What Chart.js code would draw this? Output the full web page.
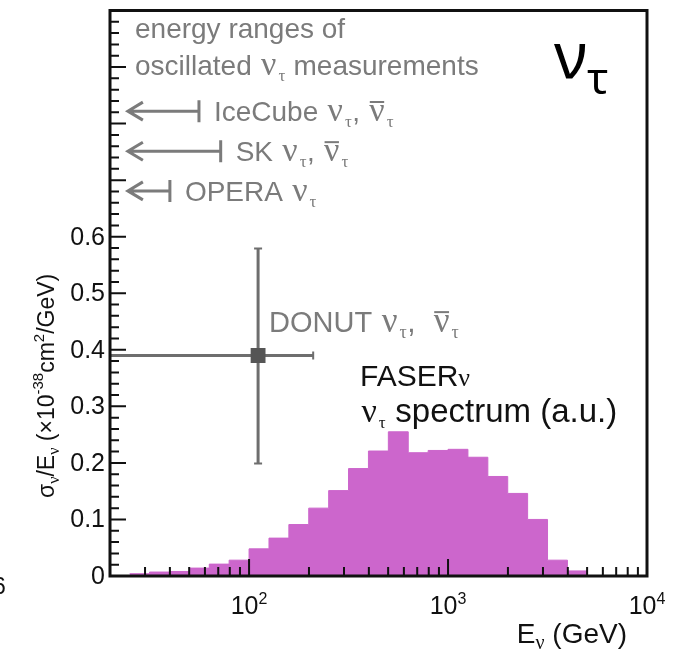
<!DOCTYPE html>
<html>
<head>
<meta charset="utf-8">
<script src="https://cdn.jsdelivr.net/npm/chart.js@4.4.1/dist/chart.umd.min.js"></script>
<style>
  html, body { margin: 0; padding: 0; background: #fff; }
  canvas { display: block; }
</style>
</head>
<body>
<canvas id="nuTau" width="679" height="657"></canvas>
<script>
// FASERnu nu_tau spectrum: 0.1-decade bins from 10^1.4 to 10^3.7 GeV
var BIN_EDGES = [25.1, 31.6, 39.8, 50.1, 63.1, 79.4, 100, 125.9, 158.5, 199.5, 251.2, 316.2,
                 398.1, 501.2, 631.0, 794.3, 1000, 1258.9, 1584.9, 1995.3, 2511.9, 3162.3, 3981.1, 5011.9];
var SPECTRUM = [0.004, 0.007, 0.008, 0.014, 0.021, 0.028, 0.048, 0.067, 0.091, 0.120, 0.151, 0.190,
                0.221, 0.255, 0.218, 0.222, 0.224, 0.210, 0.176, 0.146, 0.100, 0.028, 0.009];

// DONUT measurement
var DONUT_E = [111];
var DONUT_E_LOW = [10];
var DONUT_E_HIGH = [210];
var DONUT_XS = [0.39];
var DONUT_XS_LOW = [0.199];
var DONUT_XS_HIGH = [0.579];

// energy ranges of oscillated nu_tau measurements (GeV)
var RANGE_NAMES = ['IceCube', 'SK', 'OPERA'];
var RANGE_LOW = [24.6, 24.6, 24.6];
var RANGE_HIGH = [56, 72, 40];
var RANGE_Y = [0.822, 0.751, 0.681];

// axis ticks
var X_MAJOR = [100, 1000, 10000];
var X_EXPONENTS = ['2', '3', '4'];
var X_MINOR = [30, 40, 50, 60, 70, 80, 90, 200, 300, 400, 500, 600, 700, 800, 900,
               2000, 3000, 4000, 5000, 6000, 7000, 8000, 9000];
var Y_LABELS = ['0', '0.1', '0.2', '0.3', '0.4', '0.5', '0.6'];

var SANS = '"Liberation Sans", Arial, Helvetica, sans-serif';
var GREEK = '"Liberation Serif", "Times New Roman", serif';
var GREY = '#7b7b7b';
var MAGENTA = '#cc66cc';

function rich(ctx, x, y, parts, align) {
    var w = 0;
    parts.forEach(function (p) { ctx.font = p.f; w += ctx.measureText(p.t).width + (p.pad || 0); });
    var cx = align === 'right' ? x - w : (align === 'center' ? x - w / 2 : x);
    parts.forEach(function (p) {
        ctx.font = p.f;
        var pw = ctx.measureText(p.t).width;
        ctx.fillText(p.t, cx + (p.pad || 0) / 2, y + (p.dy || 0));
        if (p.bar) {
            ctx.fillRect(cx + 2, y + (p.dy || 0) - p.bar, pw + (p.pad || 0) - 4, 2);
        }
        cx += pw + (p.pad || 0);
    });
}

function nuTauParts(size, bar) {
    return [
        { t: 'ν', f: Math.round(size * 1.2) + 'px ' + GREEK, bar: bar ? size * 0.72 : 0, pad: 3 },
        { t: 'τ', f: Math.round(size * 0.62) + 'px ' + GREEK, dy: 6, pad: 1 }
    ];
}

var decorations = {
    id: 'decorations',
    beforeDatasetsDraw: function (chart) {
        var ctx = chart.ctx, xs = chart.scales.x, ys = chart.scales.y, a = chart.chartArea;
        ctx.save();
        ctx.beginPath();
        ctx.rect(a.left, a.top, a.right - a.left, a.bottom - a.top);
        ctx.clip();
        ctx.strokeStyle = '#6e6e6e';
        for (var i = 0; i < DONUT_E.length; i++) {
            var px = xs.getPixelForValue(DONUT_E[i]);
            var py = ys.getPixelForValue(DONUT_XS[i]);
            var xl = xs.getPixelForValue(DONUT_E_LOW[i]);
            var xh = xs.getPixelForValue(DONUT_E_HIGH[i]);
            var yl = ys.getPixelForValue(DONUT_XS_LOW[i]);
            var yh = ys.getPixelForValue(DONUT_XS_HIGH[i]);
            ctx.lineWidth = 3;
            ctx.beginPath();
            ctx.moveTo(xl, py); ctx.lineTo(xh, py);
            ctx.moveTo(px, yl); ctx.lineTo(px, yh);
            ctx.stroke();
            ctx.lineWidth = 2;
            ctx.beginPath();
            ctx.moveTo(xh, py - 4); ctx.lineTo(xh, py + 4);
            ctx.moveTo(px - 4, yl); ctx.lineTo(px + 4, yl);
            ctx.moveTo(px - 4, yh); ctx.lineTo(px + 4, yh);
            ctx.stroke();
        }
        ctx.restore();
    },
    afterDraw: function (chart) {
        var ctx = chart.ctx, xs = chart.scales.x, ys = chart.scales.y, a = chart.chartArea;
        var i, p, y;
        ctx.save();

        // frame
        ctx.strokeStyle = '#111';
        ctx.lineWidth = 3;
        ctx.strokeRect(a.left, a.top, a.right - a.left, a.bottom - a.top);

        // inward ticks
        ctx.lineWidth = 2;
        ctx.beginPath();
        for (i = 0; i <= 50; i++) {
            y = ys.getPixelForValue(i * 0.02);
            ctx.moveTo(a.left, y);
            ctx.lineTo(a.left + (i % 5 === 0 ? 16 : 9), y);
        }
        X_MAJOR.forEach(function (v) {
            p = xs.getPixelForValue(v);
            ctx.moveTo(p, a.bottom); ctx.lineTo(p, a.bottom - 17);
        });
        X_MINOR.forEach(function (v) {
            p = xs.getPixelForValue(v);
            ctx.moveTo(p, a.bottom); ctx.lineTo(p, a.bottom - 9);
        });
        ctx.stroke();

        // tick labels
        ctx.fillStyle = '#111';
        ctx.textBaseline = 'middle';
        ctx.textAlign = 'right';
        ctx.font = '25px ' + SANS;
        Y_LABELS.forEach(function (lab, k) {
            ctx.fillText(lab, a.left - 5, ys.getPixelForValue(k * 0.1) + 1);
        });
        ctx.textBaseline = 'alphabetic';
        ctx.textAlign = 'left';
        X_MAJOR.forEach(function (v, k) {
            rich(ctx, xs.getPixelForValue(v), a.bottom + 38, [
                { t: '10', f: '25px ' + SANS },
                { t: X_EXPONENTS[k], f: '16px ' + SANS, dy: -10 }
            ], 'center');
        });

        // axis titles
        rich(ctx, 627, 643, [
            { t: 'E', f: '28px ' + SANS },
            { t: 'ν', f: '20px ' + GREEK, dy: 6 },
            { t: ' (GeV)', f: '28px ' + SANS }
        ], 'right');
        ctx.save();
        ctx.translate(54, 498);
        ctx.rotate(-Math.PI / 2);
        rich(ctx, 0, 0, [
            { t: 'σ', f: '23px ' + SANS },
            { t: 'ν', f: '16px ' + GREEK, dy: 5 },
            { t: '/E', f: '23px ' + SANS },
            { t: 'ν', f: '16px ' + GREEK, dy: 5 },
            { t: ' (×10', f: '23px ' + SANS },
            { t: '-38', f: '15px ' + SANS, dy: -11 },
            { t: 'cm', f: '23px ' + SANS },
            { t: '2', f: '15px ' + SANS, dy: -10 },
            { t: '/GeV)', f: '23px ' + SANS }
        ], 'left');
        ctx.restore();
        ctx.font = '23px ' + SANS;
        ctx.fillText('6', -7, 594);

        // energy ranges of oscillated measurements
        ctx.fillStyle = GREY;
        ctx.strokeStyle = GREY;
        ctx.font = '28px ' + SANS;
        ctx.fillText('energy ranges of', 135, 38);
        rich(ctx, 135, 75, [{ t: 'oscillated ', f: '28px ' + SANS }]
            .concat(nuTauParts(28, false))
            .concat([{ t: ' measurements', f: '28px ' + SANS }]), 'left');

        ctx.lineWidth = 3;
        var labelsFor = [
            [{ t: 'IceCube ', f: '28px ' + SANS }].concat(nuTauParts(28, false), [{ t: ', ', f: '28px ' + SANS }], nuTauParts(28, true)),
            [{ t: 'SK ', f: '28px ' + SANS }].concat(nuTauParts(28, false), [{ t: ', ', f: '28px ' + SANS }], nuTauParts(28, true)),
            [{ t: 'OPERA ', f: '28px ' + SANS }].concat(nuTauParts(28, false))
        ];
        for (i = 0; i < RANGE_NAMES.length; i++) {
            var x0 = xs.getPixelForValue(RANGE_LOW[i]);
            var x1 = xs.getPixelForValue(RANGE_HIGH[i]);
            y = ys.getPixelForValue(RANGE_Y[i]);
            ctx.beginPath();
            ctx.moveTo(x0, y); ctx.lineTo(x1, y);
            ctx.moveTo(x1, y - 11); ctx.lineTo(x1, y + 11);
            ctx.moveTo(x0 + 15, y - 9); ctx.lineTo(x0, y); ctx.lineTo(x0 + 15, y + 9);
            ctx.stroke();
            rich(ctx, x1 + 15, y + 10, labelsFor[i], 'left');
        }

        // DONUT label
        rich(ctx, 269, 332, [{ t: 'DONUT ', f: '29px ' + SANS }]
            .concat(nuTauParts(29, false), [{ t: ',  ', f: '30px ' + SANS }], nuTauParts(29, true)), 'left');

        // FASERnu label
        ctx.fillStyle = '#111';
        rich(ctx, 360, 386, [
            { t: 'FASER', f: '30px ' + SANS },
            { t: 'ν', f: '26px ' + GREEK }
        ], 'left');
        rich(ctx, 360, 422, nuTauParts(28, false).concat([{ t: ' spectrum (a.u.)', f: '33px ' + SANS }]), 'left');

        // big nu_tau
        ctx.fillStyle = '#000';
        rich(ctx, 554, 78, [
            { t: 'ν', f: '64px "Noto Sans", sans-serif' },
            { t: 'τ', f: '44px "Noto Sans", sans-serif', dy: 16 }
        ], 'left');

        ctx.restore();
    }
};

var histPoints = BIN_EDGES.map(function (e, i) {
    return { x: e, y: SPECTRUM[Math.min(i, SPECTRUM.length - 1)] };
});
var donutPoints = DONUT_E.map(function (e, i) { return { x: e, y: DONUT_XS[i] }; });

new Chart(document.getElementById('nuTau'), {
    type: 'line',
    data: {
        datasets: [
            {
                label: 'FASERnu nu_tau spectrum',
                data: histPoints,
                stepped: 'before',
                fill: 'origin',
                backgroundColor: MAGENTA,
                borderColor: MAGENTA,
                borderWidth: 1,
                pointRadius: 0
            },
            {
                type: 'scatter',
                label: 'DONUT',
                data: donutPoints,
                pointStyle: 'rect',
                pointRadius: 10.5,
                backgroundColor: '#555',
                borderColor: '#555',
                borderWidth: 0
            }
        ]
    },
    options: {
        responsive: false,
        animation: false,
        layout: { padding: { left: 110, right: 32, top: 8, bottom: 81 } },
        scales: {
            x: { type: 'logarithmic', min: 20, max: 10000, display: false },
            y: { type: 'linear', min: 0, max: 1, display: false }
        },
        plugins: { legend: { display: false }, tooltip: { enabled: false } }
    },
    plugins: [decorations]
});
</script>
</body>
</html>
